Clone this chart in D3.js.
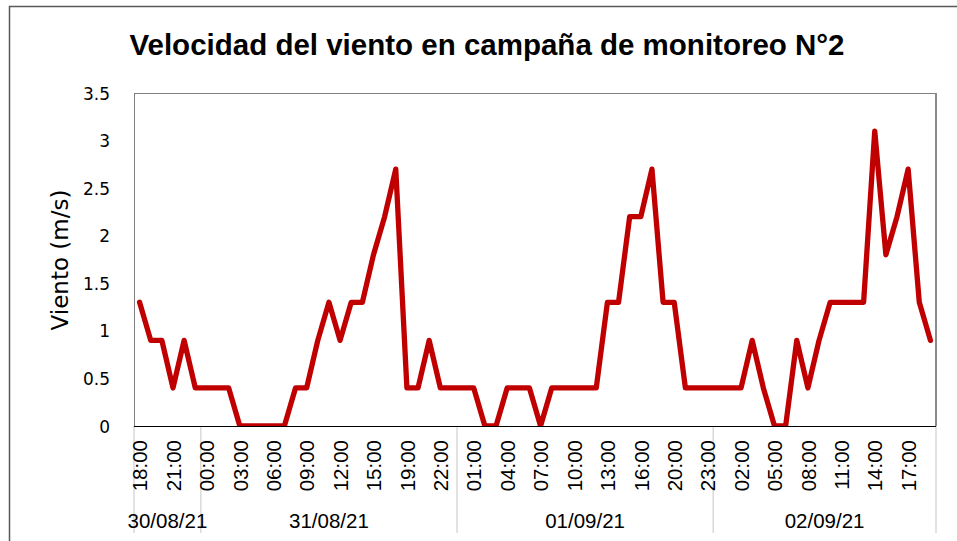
<!DOCTYPE html>
<html>
<head>
<meta charset="utf-8">
<script src="https://cdn.jsdelivr.net/npm/d3@7"></script>
<style>
  html, body { margin: 0; padding: 0; background: #fff; }
  svg { display: block; }
</style>
</head>
<body>
<svg id="chart" width="957" height="541"></svg>
<script>
// Hourly wind speed, monitoring campaign N°2 (30/08/21 18:00 – 02/09/21 19:00)
const dayLabels = ["30/08/21", "31/08/21", "01/09/21", "02/09/21"];
const dayHourCounts = [6, 23, 23, 20];

const hourLabels = [
  // 30/08/21
  "18:00", "19:00", "20:00", "21:00", "22:00", "23:00",
  // 31/08/21 (no 18:00 record)
  "00:00", "01:00", "02:00", "03:00", "04:00", "05:00", "06:00", "07:00",
  "08:00", "09:00", "10:00", "11:00", "12:00", "13:00", "14:00", "15:00",
  "16:00", "17:00", "19:00", "20:00", "21:00", "22:00", "23:00",
  // 01/09/21 (no 19:00 record)
  "00:00", "01:00", "02:00", "03:00", "04:00", "05:00", "06:00", "07:00",
  "08:00", "09:00", "10:00", "11:00", "12:00", "13:00", "14:00", "15:00",
  "16:00", "17:00", "18:00", "20:00", "21:00", "22:00", "23:00",
  // 02/09/21
  "00:00", "01:00", "02:00", "03:00", "04:00", "05:00", "06:00", "07:00",
  "08:00", "09:00", "10:00", "11:00", "12:00", "13:00", "14:00", "15:00",
  "16:00", "17:00", "18:00", "19:00"
];

const windSpeed = [
  1.3, 0.9, 0.9, 0.4, 0.9, 0.4,
  0.4, 0.4, 0.4, 0, 0, 0, 0, 0,
  0.4, 0.4, 0.9, 1.3, 0.9, 1.3, 1.3, 1.8,
  2.2, 2.7, 0.4, 0.4, 0.9, 0.4, 0.4,
  0.4, 0.4, 0, 0, 0.4, 0.4, 0.4, 0,
  0.4, 0.4, 0.4, 0.4, 0.4, 1.3, 1.3, 2.2,
  2.2, 2.7, 1.3, 1.3, 0.4, 0.4, 0.4,
  0.4, 0.4, 0.4, 0.9, 0.4, 0, 0, 0.9,
  0.4, 0.9, 1.3, 1.3, 1.3, 1.3, 3.1, 1.8,
  2.2, 2.7, 1.3, 0.9
];

const yTicks = [0, 0.5, 1, 1.5, 2, 2.5, 3, 3.5];

const titleText = "Velocidad del viento en campaña de monitoreo N°2";
const yTitleText = "Viento (m/s)";

const ARIAL = "'Liberation Sans', Arial, sans-serif";
const SIDE = "'DejaVu Sans', 'Open Sans', sans-serif";

const svg = d3.select("#chart");
const plot = { left: 134, right: 936, top: 93, bottom: 426 };

const idx = d3.range(windSpeed.length);
const x = d3.scalePoint().domain(idx).range([plot.left, plot.right]).padding(0.5);
const step = x.step();
const y = d3.scaleLinear().domain([0, 3.5]).range([plot.bottom, plot.top]);

// outer chart frame
svg.append("rect")
  .attr("x", 9.5).attr("y", 6.5)
  .attr("width", 1000).attr("height", 600)
  .attr("fill", "none").attr("stroke", "#595959").attr("stroke-width", 1.5);

// title
svg.append("text")
  .attr("x", 487).attr("y", 55)
  .attr("text-anchor", "middle")
  .attr("font-family", ARIAL).attr("font-weight", "bold").attr("font-size", 29.5)
  .attr("fill", "#000")
  .text(titleText);

// plot frame
svg.append("line").attr("x1", plot.left + 0.5).attr("x2", plot.left + 0.5)
  .attr("y1", plot.top).attr("y2", plot.bottom).attr("stroke", "#808080");
svg.append("line").attr("x1", plot.left).attr("x2", plot.right)
  .attr("y1", plot.top + 0.5).attr("y2", plot.top + 0.5).attr("stroke", "#808080");
svg.append("line").attr("x1", plot.right).attr("x2", plot.right)
  .attr("y1", plot.top).attr("y2", plot.bottom).attr("stroke", "#8a8a8a").attr("stroke-width", 2);

// day group separators below the axis
let acc = 0;
const boundaries = [0];
dayHourCounts.forEach(c => { acc += c; boundaries.push(acc); });
const bx = i => plot.left + i * step;
svg.append("g").selectAll("line").data(boundaries).join("line")
  .attr("x1", d => bx(d)).attr("x2", d => bx(d))
  .attr("y1", plot.bottom).attr("y2", 533)
  .attr("stroke", "#d9d9d9").attr("stroke-width", 1.5);

// day labels
svg.append("g").selectAll("text").data(dayLabels).join("text")
  .attr("x", (d, i) => (bx(boundaries[i]) + bx(boundaries[i + 1])) / 2)
  .attr("y", 527.5)
  .attr("text-anchor", "middle")
  .attr("font-family", ARIAL).attr("font-size", 20.5).attr("fill", "#000")
  .text(d => d);

// hour axis (every third record)
const xAxis = d3.axisBottom(x)
  .tickValues(idx.filter(i => i % 3 === 0))
  .tickSize(0)
  .tickFormat(i => hourLabels[i]);
const gx = svg.append("g").attr("transform", `translate(0,${plot.bottom})`).call(xAxis);
gx.select(".domain").remove();
gx.selectAll("text")
  .attr("font-family", ARIAL).attr("font-size", 20.5).attr("fill", "#000")
  .attr("text-anchor", "end")
  .attr("transform", "rotate(-90)")
  .attr("x", -14).attr("y", 0).attr("dy", "0.35em");

// value axis
const yAxis = d3.axisLeft(y).tickValues(yTicks).tickSize(0).tickFormat(d => String(d));
const gy = svg.append("g").attr("transform", `translate(${plot.left},0)`).call(yAxis);
gy.select(".domain").remove();
gy.selectAll("text")
  .attr("font-family", SIDE).attr("font-size", 17).attr("fill", "#000")
  .attr("x", -24).attr("dy", "0.36em");

// y axis title
svg.append("text")
  .attr("transform", `translate(60,260) rotate(-90)`)
  .attr("text-anchor", "middle").attr("dy", "0.35em")
  .attr("font-family", SIDE).attr("font-size", 23).attr("fill", "#000")
  .text(yTitleText);

// clip for the series
svg.append("clipPath").attr("id", "plotclip")
  .append("rect")
  .attr("x", plot.left).attr("y", plot.top - 10)
  .attr("width", plot.right - plot.left + 10).attr("height", plot.bottom - plot.top + 10);

// wind speed line
const line = d3.line().x((d, i) => x(i)).y(d => y(d));
svg.append("path")
  .datum(windSpeed)
  .attr("clip-path", "url(#plotclip)")
  .attr("d", line)
  .attr("fill", "none")
  .attr("stroke", "#c00000")
  .attr("stroke-width", 5.3)
  .attr("stroke-linejoin", "round")
  .attr("stroke-linecap", "round");

// category axis line
svg.append("line").attr("x1", plot.left).attr("x2", plot.right)
  .attr("y1", plot.bottom + 0.5).attr("y2", plot.bottom + 0.5).attr("stroke", "#000");
</script>
</body>
</html>
